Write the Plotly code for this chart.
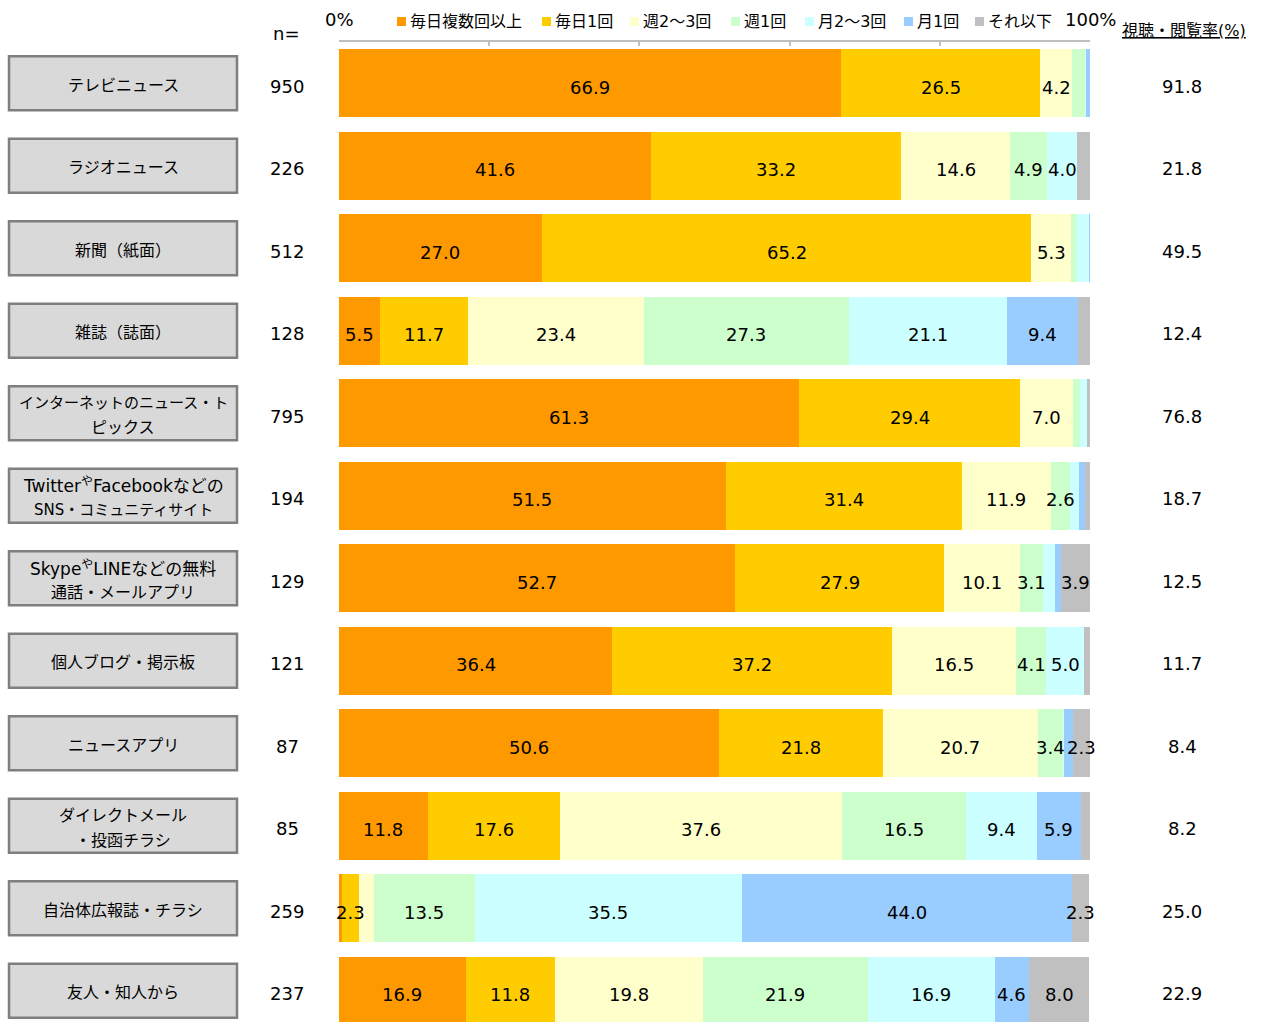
import plotly.graph_objects as go

# Media categories (top to bottom)
categories = [
    "テレビニュース",
    "ラジオニュース",
    "新聞（紙面）",
    "雑誌（誌面）",
    "インターネットのニュース・ト<br>ピックス",
    "Twitter<sup>や</sup>Facebookなどの<br>SNS・コミュニティサイト",
    "Skype<sup>や</sup>LINEなどの無料<br>通話・メールアプリ",
    "個人ブログ・掲示板",
    "ニュースアプリ",
    "ダイレクトメール<br>・投函チラシ",
    "自治体広報誌・チラシ",
    "友人・知人から",
]
sample_n = [950, 226, 512, 128, 795, 194, 129, 121, 87, 85, 259, 237]
view_rate = [91.8, 21.8, 49.5, 12.4, 76.8, 18.7, 12.5, 11.7, 8.4, 8.2, 25.0, 22.9]

# Frequency shares (%)
series_names = ["毎日複数回以上", "毎日1回", "週2～3回", "週1回", "月2～3回", "月1回", "それ以下"]
daily_multi = [66.9, 41.6, 27.0, 5.5, 61.3, 51.5, 52.7, 36.4, 50.6, 11.8, 0.4, 16.9]
daily_once = [26.5, 33.2, 65.2, 11.7, 29.4, 31.4, 27.9, 37.2, 21.8, 17.6, 2.3, 11.8]
weekly_2_3 = [4.2, 14.6, 5.3, 23.4, 7.0, 11.9, 10.1, 16.5, 20.7, 37.6, 1.9, 19.8]
weekly_once = [1.8, 4.9, 0.8, 27.3, 1.0, 2.6, 3.1, 4.1, 3.4, 16.5, 13.5, 21.9]
monthly_2_3 = [0.1, 4.0, 1.6, 21.1, 0.9, 1.1, 1.6, 5.0, 0.1, 9.4, 35.5, 16.9]
monthly_once = [0.5, 0.0, 0.1, 9.4, 0.0, 0.9, 0.7, 0.0, 1.1, 5.9, 44.0, 4.6]
less_often = [0.0, 1.7, 0.0, 1.6, 0.4, 0.6, 3.9, 0.8, 2.3, 1.2, 2.3, 8.0]

series_values = [daily_multi, daily_once, weekly_2_3, weekly_once,
                 monthly_2_3, monthly_once, less_often]
colors = ["#FF9900", "#FFCC00", "#FFFFCC", "#CCFFCC", "#CCFFFF", "#99CCFF", "#C0C0C0"]

W, H = 1267, 1022
M_L, M_R, M_T, M_B = 339, 177, 42, 0
PLOT_W = W - M_L - M_R
PLOT_H = H - M_T - M_B
ROW_PX = 82.5

FONT = "DejaVu Sans, Noto Sans CJK JP, sans-serif"


def px_x(px):
    return (px - M_L) / PLOT_W


def px_y(py):
    return (H - M_B - py) / PLOT_H


rows = list(range(len(categories)))

fig = go.Figure()
for name, vals, col in zip(series_names, series_values, colors):
    fig.add_trace(go.Bar(
        name=name,
        y=rows,
        x=vals,
        orientation="h",
        marker=dict(color=col, line=dict(width=0)),
        hoverinfo="skip",
        showlegend=False,
    ))

shapes = []
annotations = []

# Segment value labels, placed at the middle of each stacked segment
for i in rows:
    start = 0.0
    for vals in series_values:
        v = vals[i]
        if v >= 2.0:
            annotations.append(dict(
                xref="x", yref="y", x=start + v / 2, y=i, text=f"{v:.1f}",
                showarrow=False, xanchor="center", yanchor="middle", yshift=-4,
                font=dict(family=FONT, size=18, color="#000000"),
            ))
        start += v

# Category boxes on the left
half_box = 27 / ROW_PX
for i, label in enumerate(categories):
    shapes.append(dict(
        type="rect", xref="paper", yref="y",
        x0=px_x(9), x1=px_x(237), y0=i - half_box, y1=i + half_box,
        fillcolor="#D9D9D9", line=dict(color="#7F7F7F", width=2.5), layer="above",
    ))
    lines = label.split("<br>")
    offs = [0] if len(lines) == 1 else [-12.5 / ROW_PX, 12.5 / ROW_PX]
    for line, off in zip(lines, offs):
        if "<sup>" in line:
            size = 17
        elif len(line) > 12:
            size = 15
        else:
            size = 16
        annotations.append(dict(
            xref="paper", yref="y", x=px_x(123), y=i + off,
            text=line, showarrow=False, xanchor="center", yanchor="middle", yshift=-2,
            font=dict(family=FONT, size=size, color="#000000"),
        ))
    # sample size
    annotations.append(dict(
        xref="paper", yref="y", x=px_x(287), y=i, text=str(sample_n[i]),
        showarrow=False, xanchor="center", yanchor="middle", yshift=-3,
        font=dict(family=FONT, size=18, color="#000000"),
    ))
    # viewing rate
    annotations.append(dict(
        xref="paper", yref="y", x=px_x(1182), y=i, text=f"{view_rate[i]:.1f}",
        showarrow=False, xanchor="center", yanchor="middle", yshift=-3,
        font=dict(family=FONT, size=18, color="#000000"),
    ))

# Header texts
annotations += [
    dict(xref="paper", yref="paper", x=px_x(286), y=px_y(34), text="n=",
         showarrow=False, xanchor="center", yanchor="middle",
         font=dict(family=FONT, size=18, color="#000000")),
    dict(xref="paper", yref="paper", x=px_x(339), y=px_y(19), text="0%",
         showarrow=False, xanchor="center", yanchor="middle",
         font=dict(family=FONT, size=18, color="#000000")),
    dict(xref="paper", yref="paper", x=px_x(1090), y=px_y(19), text="100%",
         showarrow=False, xanchor="center", yanchor="middle",
         font=dict(family=FONT, size=18, color="#000000")),
    dict(xref="paper", yref="paper", x=px_x(1184), y=px_y(30), text="<u>視聴・閲覧率(%)</u>",
         showarrow=False, xanchor="center", yanchor="middle",
         font=dict(family=FONT, size=16, color="#000000")),
]

# Custom legend row
legend_marker_x = [397, 542, 630, 731, 805, 904, 975]
for name, col, mx in zip(series_names, colors, legend_marker_x):
    shapes.append(dict(
        type="rect", xref="paper", yref="paper",
        x0=px_x(mx), x1=px_x(mx + 9), y0=px_y(26), y1=px_y(17),
        fillcolor=col, line=dict(width=0),
    ))
    annotations.append(dict(
        xref="paper", yref="paper", x=px_x(mx + 11), y=px_y(21), text=name,
        showarrow=False, xanchor="left", yanchor="middle",
        font=dict(family=FONT, size=16, color="#000000"),
    ))

fig.update_layout(
    barmode="stack",
    bargap=1 - 68 / ROW_PX,
    width=W, height=H,
    margin=dict(l=M_L, r=M_R, t=M_T, b=M_B, pad=0),
    paper_bgcolor="white", plot_bgcolor="white",
    showlegend=False,
    shapes=shapes,
    annotations=annotations,
    xaxis=dict(
        range=[0, 100], side="top",
        tickvals=[0, 20, 40, 60, 80, 100], showticklabels=False,
        ticks="inside", ticklen=4, tickwidth=2, tickcolor="#BFBFBF",
        showline=True, linecolor="#BFBFBF", linewidth=2,
        showgrid=False, zeroline=False, fixedrange=True,
    ),
    yaxis=dict(
        range=[PLOT_H / ROW_PX - 0.5, -0.5],
        showticklabels=False, ticks="", showline=False,
        showgrid=False, zeroline=False, fixedrange=True,
    ),
)

fig.write_html("out.html", config={"displayModeBar": False})
